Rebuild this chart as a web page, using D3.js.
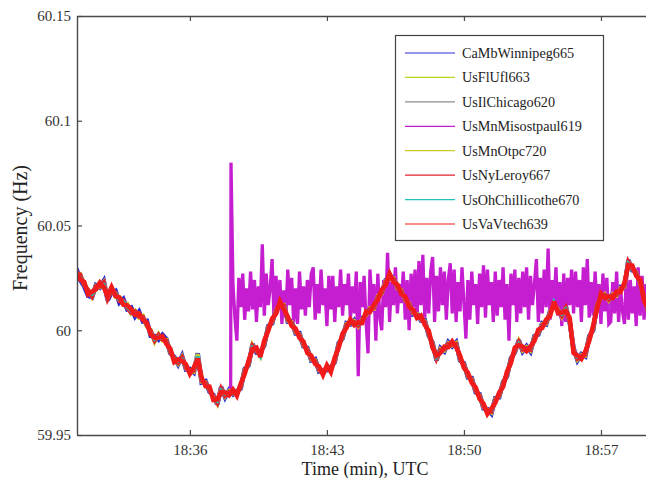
<!DOCTYPE html>
<html><head><meta charset="utf-8">
<script src="https://cdn.jsdelivr.net/npm/d3@7"></script>
<style>
body{margin:0;background:#fff}
svg{display:block}
svg text{font-family:"Liberation Serif","Times New Roman",serif}
</style>
</head><body>
<svg id="chart" width="646" height="478"></svg>
<script>
// ---------- data ----------
const clockStart = "18:30:00";               // sample times are seconds after this (UTC)
const xTickLabels = ["18:36", "18:43", "18:50", "18:57"];
const yTickValues = [59.95, 60, 60.05, 60.1, 60.15];
const yTickLabels = ["59.95", "60", "60.05", "60.1", "60.15"];
const xTitle = "Time (min), UTC";
const yTitle = "Frequency (Hz)";
const seriesNames = ["CaMbWinnipeg665","UsFlUfl663","UsIlChicago620","UsMnMisostpaul619","UsMnOtpc720","UsNyLeroy667","UsOhChillicothe670","UsVaVtech639"];

const timeMain = [12,24,36,48,60,72,84,96,108,120,132,144,156,168,180,192,204,216,228,240,252,264,276,288,300,312,324,336,348,360,372,384,396,408,420,432,444,456,468,480,492,504,516,528,540,552,564,576,588,600,612,624,636,648,660,672,684,696,708,720,732,744,756,768,780,792,804,816,828,840,852,864,876,888,900,912,924,936,948,960,972,984,996,1008,1020,1032,1044,1056,1068,1080,1092,1104,1116,1128,1140,1152,1164,1176,1188,1200,1212,1224,1236,1248,1260,1272,1284,1296,1308,1320,1332,1344,1356,1368,1380,1392,1404,1416,1428,1440,1452,1464,1476,1488,1500,1512,1524,1536,1548,1560,1572,1584,1596,1608,1620,1632,1644,1656,1668,1680,1692,1704,1716,1728,1740,1752,1764];

const winnipeg = [60.0295,60.0240,60.0210,60.0165,60.0158,60.0215,60.0204,60.0235,60.0143,60.0180,
60.0188,60.0132,60.0149,60.0100,60.0108,60.0065,60.0089,60.0042,60.0045,59.9974,
59.9973,59.9955,59.9978,59.9958,59.9890,59.9873,59.9837,59.9877,59.9813,59.9815,
59.9799,59.9890,59.9751,59.9757,59.9707,59.9691,59.9646,59.9729,59.9680,59.9714,
59.9694,59.9710,59.9723,59.9815,59.9832,59.9934,59.9894,59.9896,59.9928,60.0020,
60.0033,60.0101,60.0114,60.0125,60.0042,60.0044,59.9985,59.9986,59.9923,59.9915,
59.9856,59.9862,59.9804,59.9810,59.9809,59.9824,59.9847,59.9939,59.9961,60.0034,
60.0028,60.0048,60.0014,60.0058,60.0066,60.0110,60.0099,60.0168,60.0171,60.0239,
60.0247,60.0254,60.0195,60.0196,60.0138,60.0134,60.0076,60.0082,60.0047,60.0048,
59.9975,59.9939,59.9856,59.9915,59.9899,59.9943,59.9923,59.9943,59.9856,59.9843,
59.9775,59.9772,59.9704,59.9695,59.9627,59.9624,59.9603,59.9676,59.9680,59.9753,
59.9780,59.9867,59.9894,59.9953,59.9899,59.9924,59.9899,59.9972,59.9980,60.0034,
60.0028,60.0091,60.0114,60.0106,60.0061,60.0115,60.0037,59.9915,59.9856,59.9886,
59.9875,59.9972,59.9999,60.0125,60.0152,60.0177,60.0138,60.0177,60.0161,60.0206,
60.0204,60.0335,60.0286,60.0282,60.0219,60.0163,60.0085];

const ufl = [60.0279,60.0250,60.0231,60.0175,60.0179,60.0194,60.0225,60.0212,60.0164,60.0190,
60.0178,60.0143,60.0139,60.0110,60.0097,60.0076,60.0078,60.0052,60.0034,59.9985,
59.9963,59.9966,59.9968,59.9938,59.9910,59.9852,59.9858,59.9857,59.9834,59.9795,
59.9820,59.9870,59.9772,59.9737,59.9729,59.9671,59.9667,59.9709,59.9700,59.9694,
59.9714,59.9691,59.9743,59.9795,59.9852,59.9914,59.9914,59.9877,59.9948,60.0000,
60.0053,60.0081,60.0134,60.0105,60.0062,60.0024,60.0005,59.9966,59.9943,59.9895,
59.9876,59.9842,59.9824,59.9790,59.9829,59.9804,59.9867,59.9919,59.9981,60.0014,
60.0048,60.0028,60.0034,60.0038,60.0086,60.0090,60.0119,60.0148,60.0191,60.0219,
60.0267,60.0234,60.0215,60.0176,60.0158,60.0114,60.0096,60.0062,60.0067,60.0028,
59.9995,59.9919,59.9876,59.9895,59.9919,59.9923,59.9943,59.9923,59.9876,59.9823,
59.9795,59.9752,59.9724,59.9675,59.9647,59.9604,59.9623,59.9656,59.9700,59.9733,
59.9800,59.9847,59.9914,59.9933,59.9919,59.9904,59.9919,59.9952,60.0000,60.0014,
60.0048,60.0071,60.0134,60.0086,60.0081,60.0095,60.0057,59.9895,59.9876,59.9866,
59.9895,59.9952,60.0019,60.0105,60.0172,60.0157,60.0158,60.0157,60.0181,60.0186,
60.0224,60.0315,60.0306,60.0262,60.0239,60.0143,60.0105];

const chicago = [60.0276,60.0256,60.0220,60.0186,60.0170,60.0203,60.0214,60.0223,60.0152,60.0199,
60.0170,60.0152,60.0130,60.0118,60.0087,60.0085,60.0068,60.0061,60.0025,59.9994,
59.9953,59.9975,59.9958,59.9947,59.9901,59.9861,59.9848,59.9866,59.9824,59.9804,
59.9810,59.9880,59.9762,59.9746,59.9719,59.9680,59.9657,59.9718,59.9691,59.9703,
59.9705,59.9699,59.9734,59.9804,59.9843,59.9923,59.9905,59.9885,59.9939,60.0009,
60.0044,60.0090,60.0125,60.0114,60.0053,60.0033,59.9996,59.9975,59.9934,59.9904,
59.9867,59.9851,59.9815,59.9799,59.9822,59.9813,59.9858,59.9928,59.9972,60.0023,
60.0039,60.0037,60.0025,60.0047,60.0077,60.0099,60.0110,60.0157,60.0182,60.0228,
60.0258,60.0243,60.0206,60.0185,60.0149,60.0123,60.0087,60.0071,60.0058,60.0037,
59.9986,59.9928,59.9867,59.9904,59.9910,59.9932,59.9934,59.9932,59.9867,59.9832,
59.9786,59.9761,59.9715,59.9684,59.9638,59.9613,59.9614,59.9665,59.9691,59.9742,
59.9791,59.9856,59.9905,59.9942,59.9910,59.9913,59.9910,59.9961,59.9991,60.0023,
60.0039,60.0080,60.0125,60.0095,60.0072,60.0104,60.0048,59.9904,59.9867,59.9875,
59.9886,59.9961,60.0010,60.0114,60.0163,60.0166,60.0149,60.0166,60.0172,60.0195,
60.0215,60.0324,60.0297,60.0271,60.0230,60.0152,60.0096];

const otpc = [60.0260,60.0268,60.0215,60.0195,60.0160,60.0212,60.0206,60.0230,60.0148,60.0208,
60.0160,60.0159,60.0123,60.0126,60.0080,60.0093,60.0060,60.0069,60.0018,60.0002,
59.9946,59.9982,59.9951,59.9954,59.9894,59.9868,59.9840,59.9873,59.9817,59.9810,
59.9802,59.9887,59.9755,59.9753,59.9712,59.9687,59.9650,59.9725,59.9684,59.9710,
59.9698,59.9706,59.9727,59.9811,59.9836,59.9930,59.9898,59.9892,59.9932,60.0016,
60.0037,60.0097,60.0118,60.0121,60.0046,60.0040,59.9989,59.9982,59.9927,59.9911,
59.9860,59.9858,59.9808,59.9806,59.9813,59.9820,59.9851,59.9935,59.9965,60.0030,
60.0032,60.0044,60.0018,60.0054,60.0070,60.0106,60.0103,60.0164,60.0175,60.0235,
60.0251,60.0250,60.0199,60.0192,60.0142,60.0130,60.0080,60.0078,60.0051,60.0044,
59.9979,59.9935,59.9860,59.9911,59.9903,59.9939,59.9927,59.9939,59.9860,59.9839,
59.9779,59.9768,59.9708,59.9691,59.9631,59.9620,59.9607,59.9672,59.9684,59.9749,
59.9784,59.9863,59.9898,59.9949,59.9903,59.9920,59.9903,59.9968,59.9984,60.0030,
60.0032,60.0087,60.0118,60.0102,60.0065,60.0111,60.0041,59.9911,59.9860,59.9882,
59.9879,59.9968,60.0003,60.0121,60.0156,60.0173,60.0142,60.0173,60.0165,60.0202,
60.0208,60.0331,60.0290,60.0278,60.0223,60.0159,60.0089];

const leroy = [60.0264,60.0265,60.0216,60.0192,60.0163,60.0209,60.0210,60.0228,60.0150,60.0187,
60.0179,60.0140,60.0142,60.0107,60.0084,60.0089,60.0065,60.0064,60.0023,59.9997,
59.9951,59.9978,59.9955,59.9950,59.9898,59.9864,59.9845,59.9869,59.9821,59.9807,
59.9808,59.9871,59.9760,59.9749,59.9716,59.9683,59.9654,59.9721,59.9688,59.9706,
59.9702,59.9702,59.9731,59.9807,59.9841,59.9925,59.9902,59.9888,59.9937,60.0011,
60.0042,60.0093,60.0123,60.0117,60.0051,60.0035,59.9994,59.9977,59.9932,59.9906,
59.9865,59.9853,59.9813,59.9801,59.9818,59.9815,59.9856,59.9930,59.9970,60.0025,
60.0037,60.0039,60.0023,60.0049,60.0075,60.0101,60.0108,60.0159,60.0180,60.0230,
60.0256,60.0245,60.0204,60.0187,60.0147,60.0125,60.0085,60.0073,60.0056,60.0039,
59.9984,59.9930,59.9865,59.9906,59.9908,59.9934,59.9932,59.9934,59.9865,59.9834,
59.9784,59.9763,59.9713,59.9686,59.9636,59.9615,59.9612,59.9667,59.9689,59.9744,
59.9789,59.9858,59.9903,59.9944,59.9908,59.9915,59.9908,59.9963,59.9989,60.0025,
60.0037,60.0082,60.0123,60.0097,60.0070,60.0106,60.0046,59.9906,59.9865,59.9877,
59.9884,59.9963,60.0008,60.0116,60.0161,60.0168,60.0147,60.0168,60.0170,60.0197,
60.0213,60.0326,60.0295,60.0273,60.0228,60.0154,60.0094];

const chillicothe = [60.0270,60.0251,60.0226,60.0179,60.0174,60.0198,60.0221,60.0217,60.0159,60.0194,
60.0174,60.0146,60.0136,60.0112,60.0093,60.0079,60.0074,60.0055,60.0031,59.9988,
59.9959,59.9969,59.9964,59.9941,59.9907,59.9855,59.9854,59.9860,59.9830,59.9798,
59.9816,59.9874,59.9768,59.9740,59.9725,59.9674,59.9663,59.9712,59.9697,59.9697,
59.9711,59.9693,59.9740,59.9798,59.9849,59.9917,59.9911,59.9879,59.9945,60.0003,
60.0050,60.0084,60.0131,60.0108,60.0059,60.0027,60.0002,59.9969,59.9940,59.9898,
59.9873,59.9845,59.9821,59.9793,59.9826,59.9807,59.9864,59.9922,59.9978,60.0017,
60.0045,60.0031,60.0031,60.0041,60.0083,60.0093,60.0116,60.0151,60.0188,60.0222,
60.0264,60.0237,60.0212,60.0179,60.0155,60.0117,60.0093,60.0065,60.0064,60.0031,
59.9992,59.9922,59.9873,59.9898,59.9916,59.9926,59.9940,59.9926,59.9873,59.9826,
59.9792,59.9755,59.9721,59.9678,59.9644,59.9607,59.9620,59.9659,59.9697,59.9736,
59.9797,59.9850,59.9911,59.9936,59.9916,59.9907,59.9916,59.9955,59.9997,60.0017,
60.0045,60.0074,60.0131,60.0089,60.0078,60.0098,60.0054,59.9898,59.9873,59.9869,
59.9892,59.9955,60.0016,60.0108,60.0169,60.0160,60.0155,60.0160,60.0178,60.0189,
60.0221,60.0318,60.0303,60.0265,60.0236,60.0146,60.0102];

const vtech = [60.0280,60.0243,60.0230,60.0172,60.0184,60.0195,60.0227,60.0206,60.0161,60.0205,
60.0164,60.0156,60.0122,60.0119,60.0100,60.0074,60.0080,60.0049,60.0036,59.9981,
59.9964,59.9965,59.9971,59.9934,59.9912,59.9848,59.9861,59.9854,59.9837,59.9792,
59.9821,59.9865,59.9774,59.9733,59.9731,59.9667,59.9670,59.9705,59.9703,59.9690,
59.9717,59.9688,59.9746,59.9791,59.9855,59.9910,59.9917,59.9873,59.9951,59.9996,
60.0056,60.0078,60.0137,60.0101,60.0065,60.0020,60.0008,59.9963,59.9946,59.9891,
59.9879,59.9839,59.9827,59.9787,59.9832,59.9801,59.9870,59.9916,59.9984,60.0011,
60.0051,60.0025,60.0037,60.0035,60.0089,60.0087,60.0122,60.0145,60.0194,60.0216,
60.0270,60.0231,60.0218,60.0173,60.0161,60.0111,60.0099,60.0059,60.0070,60.0025,
59.9998,59.9916,59.9879,59.9892,59.9922,59.9920,59.9946,59.9920,59.9879,59.9820,
59.9798,59.9749,59.9727,59.9672,59.9650,59.9601,59.9626,59.9653,59.9703,59.9730,
59.9803,59.9844,59.9917,59.9930,59.9922,59.9901,59.9922,59.9949,60.0003,60.0011,
60.0051,60.0068,60.0137,60.0083,60.0084,60.0092,60.0060,59.9892,59.9879,59.9863,
59.9898,59.9949,60.0022,60.0102,60.0175,60.0154,60.0161,60.0154,60.0184,60.0183,
60.0227,60.0312,60.0309,60.0259,60.0242,60.0140,60.0108];

const timeMisostpaul = [485,486,492,498,504,510,516,522,528,534,540,546,552,558,564,570,576,582,588,594,600,606,612,618,624,630,636,642,648,654,660,666,672,678,684,690,696,702,708,714,720,726,732,738,744,750,756,762,768,774,780,786,792,798,804,810,816,822,828,834,840,846,852,858,864,870,876,882,888,894,900,906,912,918,924,930,936,942,948,954,960,966,972,978,984,990,996,1002,1008,1014,1020,1026,1032,1038,1044,1050,1056,1062,1068,1074,1080,1086,1092,1098,1104,1110,1116,1122,1128,1134,1140,1146,1152,1158,1164,1170,1176,1182,1188,1194,1200,1206,1212,1218,1224,1230,1236,1242,1248,1254,1260,1266,1272,1278,1284,1290,1296,1302,1308,1314,1320,1326,1332,1338,1344,1350,1356,1362,1368,1374,1380,1386,1392,1398,1404,1410,1416,1422,1428,1434,1440,1446,1452,1458,1464,1470,1476,1482,1488,1494,1500,1506,1512,1518,1524,1530,1536,1542,1548,1554,1560,1566,1572,1578,1584,1590,1596,1602,1608,1614,1620,1626,1632,1638,1644,1650,1656,1662,1668,1674,1680,1686,1692,1698,1704,1710,1716,1722,1728,1734,1740,1746,1752,1758,1764];

const misostpaul = [59.9705,60.0800,
60.022,60.006,59.995,60.025,60.011,60.027,60.005,60.020,60.009,60.028,
60.010,60.024,60.004,60.021,60.011,60.041,60.007,60.027,60.012,60.020,
60.034,60.005,60.026,60.010,60.024,60.003,60.019,60.006,60.029,60.012,
60.025,60.004,60.020,60.003,60.028,60.010,60.021,60.007,60.024,60.011,
60.027,60.030,60.005,60.022,60.008,60.029,60.012,60.020,60.002,60.026,
60.010,60.026,60.004,60.021,60.011,60.029,60.007,60.022,60.012,60.027,
60.005,60.021,60.008,60.028,59.978,60.023,60.011,60.026,60.004,59.989,
60.029,60.012,60.022,59.995,60.027,60.006,60.000,60.024,60.011,60.037,
60.004,60.023,60.012,60.030,60.008,60.022,60.013,60.028,60.005,60.024,
60.000,60.027,60.011,60.029,60.005,60.033,60.012,60.036,60.006,60.025,
60.008,60.028,60.035,60.004,60.026,60.009,60.030,60.012,60.028,60.005,
60.024,60.032,60.008,60.029,60.004,60.023,60.009,60.030,60.013,59.996,
60.024,60.005,60.028,60.012,60.022,60.003,60.027,60.011,60.031,60.006,
60.029,60.012,60.023,60.004,60.028,60.007,60.024,60.011,60.030,60.005,
60.022,59.995,60.027,60.012,60.029,60.004,60.025,60.008,60.028,60.011,
60.030,60.005,60.026,60.012,60.022,60.034,60.004,60.025,60.008,60.029,
60.011,60.039,60.005,60.024,60.012,60.030,60.007,60.023,60.002,60.027,
60.004,60.025,60.012,60.029,60.008,60.028,60.011,60.024,60.004,60.030,
60.012,60.034,60.006,60.023,60.007,60.028,60.011,60.022,60.003,60.027,
60.009,60.025,60.003,60.004,60.023,60.008,60.028,60.004,60.020,60.009,
60.003,60.027,60.005,60.024,60.008,60.021,60.002,60.030,60.007,60.026,
60.005,60.022,60.008];

// ---------- styles ----------
const seriesColors = ["#2b2bd6","#b9d21e","#8e8e8e","#c51ed0","#c9cc28","#e3202c","#1fc2bd","#f21a1a"];
const seriesWidths = [4.6, 4.0, 4.0, 3.3, 4.0, 4.4, 4.0, 4.6];

// ---------- build ----------
const base = d3.utcParse("%H:%M:%S")(clockStart);
const toDate = s => new Date(base.getTime() + s * 1000);
const parseTick = d3.utcParse("%H:%M");

const seriesData = [
  [timeMain, winnipeg], [timeMain, ufl], [timeMain, chicago], [timeMisostpaul, misostpaul],
  [timeMain, otpc], [timeMain, leroy], [timeMain, chillicothe], [timeMain, vtech]
].map(([t, v]) => d3.zip(t, v).map(([s, f]) => ({ d: toDate(s), f })));

const M = { left: 77, top: 16, right: 646, bottom: 435 };
const x = d3.scaleUtc().domain([toDate(14), toDate(1758)]).range([M.left, M.right]);
const y = d3.scaleLinear().domain([59.95, 60.15]).range([M.bottom, M.top]);

const svg = d3.select("#chart");
const FONT = "Liberation Serif";

svg.append("defs").append("clipPath").attr("id", "clip")
  .append("rect").attr("x", M.left).attr("y", M.top)
  .attr("width", M.right - M.left + 10).attr("height", M.bottom - M.top);

const line = d3.line().x(p => x(p.d)).y(p => y(p.f));
const gLines = svg.append("g").attr("clip-path", "url(#clip)");
seriesData.forEach((data, i) => {
  gLines.append("path").datum(data)
    .attr("fill", "none")
    .attr("stroke", seriesColors[i])
    .attr("stroke-width", seriesWidths[i])
    .attr("stroke-linejoin", "miter")
    .attr("stroke-miterlimit", 3)
    .attr("d", line);
});

// axes
const xTicks = xTickLabels.map(parseTick);
const axisStyle = g => {
  g.attr("font-family", null);
  g.selectAll(".domain").attr("stroke", "#4a4a4a").attr("stroke-width", 1.4);
  g.selectAll(".tick line").attr("stroke", "#4a4a4a").attr("stroke-width", 1.2);
  g.selectAll("text").style("font-family", FONT).attr("font-size", 15).attr("fill", "#333");
};
svg.append("g").attr("transform", `translate(0,${M.bottom})`)
  .call(d3.axisBottom(x).tickValues(xTicks).tickFormat((d, i) => xTickLabels[i])
    .tickSize(-5).tickSizeOuter(0).tickPadding(9))
  .call(axisStyle);
svg.append("g").attr("transform", `translate(0,${M.top})`)
  .call(d3.axisTop(x).tickValues(xTicks).tickFormat("")
    .tickSize(-5).tickSizeOuter(0))
  .call(axisStyle);
svg.append("g").attr("transform", `translate(${M.left},0)`)
  .call(d3.axisLeft(y).tickValues(yTickValues).tickFormat((d, i) => yTickLabels[i])
    .tickSize(-5).tickSizeOuter(0).tickPadding(6))
  .call(axisStyle);

// axis titles
svg.append("text").attr("x", 365).attr("y", 475).attr("text-anchor", "middle")
  .style("font-family", FONT).attr("font-size", 18).attr("fill", "#222").text(xTitle);
svg.append("text").attr("transform", "translate(27,228) rotate(-90)").attr("text-anchor", "middle")
  .style("font-family", FONT).attr("font-size", 20).attr("fill", "#222").text(yTitle);

// legend
const lg = svg.append("g");
lg.append("rect").attr("x", 395.5).attr("y", 35.5).attr("width", 208).attr("height", 205)
  .attr("fill", "#fff").attr("stroke", "#444").attr("stroke-width", 1.2);
const rowY = d3.scaleLinear().domain([0, 7]).range([53, 224]);
seriesNames.forEach((name, i) => {
  const yy = rowY(i);
  lg.append("line").attr("x1", 405).attr("x2", 455).attr("y1", yy).attr("y2", yy)
    .attr("stroke", seriesColors[i]).attr("stroke-width", 1.2);
  lg.append("text").attr("x", 462).attr("y", yy).attr("dy", "0.35em")
    .style("font-family", FONT).attr("font-size", 14.2).attr("fill", "#222").text(name);
});
</script>
</body></html>
